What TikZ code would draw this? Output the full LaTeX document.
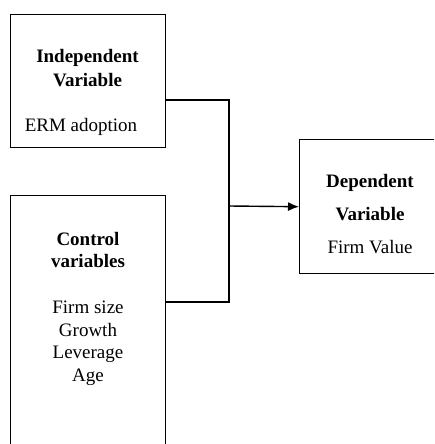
\documentclass[tikz,border=0pt]{standalone}
\usepackage{fontspec}
\setmainfont{Liberation Serif}
\usetikzlibrary{arrows.meta}

\begin{document}
\begin{tikzpicture}[x=1pt, y=-1pt, line width=1.4pt,
  box/.style={draw, rectangle, anchor=north west, inner sep=0pt},
  head/.style={anchor=base, inner sep=0pt, font=\fontsize{19}{22}\selectfont\bfseries},
  body/.style={anchor=base, inner sep=0pt, font=\fontsize{19}{22}\selectfont}]
  \clip (0,0) rectangle (434,444);
  % boxes
  \node[box, minimum width=155pt, minimum height=133pt] (indep) at (10,14) {};
  \node[box, minimum width=155pt, minimum height=270pt] (ctrl) at (10,195) {};
  \node[box, minimum width=142pt, minimum height=134pt] (dep) at (299,139) {};
  % texts
  \node[head] (indep1) at (87.5,63) {Independent};
  \node[head] (indep2) at (87.5,86) {Variable};
  \node[body] (indep3) at (81,131) {ERM adoption};
  \node[head] (ctrl1) at (88,245) {Control};
  \node[head] (ctrl2) at (88,267) {variables};
  \node[body] (ctrl3) at (88,313) {Firm size};
  \node[body] (ctrl4) at (88,336) {Growth};
  \node[body] (ctrl5) at (88,358) {Leverage};
  \node[body] (ctrl6) at (88,381) {Age};
  \node[head] (dep1) at (370,187) {Dependent};
  \node[head] (dep2) at (370,220) {Variable};
  \node[body] (dep3) at (370,253) {Firm Value};
  % connectors
  \coordinate (split) at (229,206);
  \draw ([yshift=-86pt]indep.north east) -| (split) |- ([yshift=-107pt]ctrl.north east);
  \draw[-{Latex[length=11pt,width=9pt]}] (split) -- (dep.west);
\end{tikzpicture}
\end{document}
